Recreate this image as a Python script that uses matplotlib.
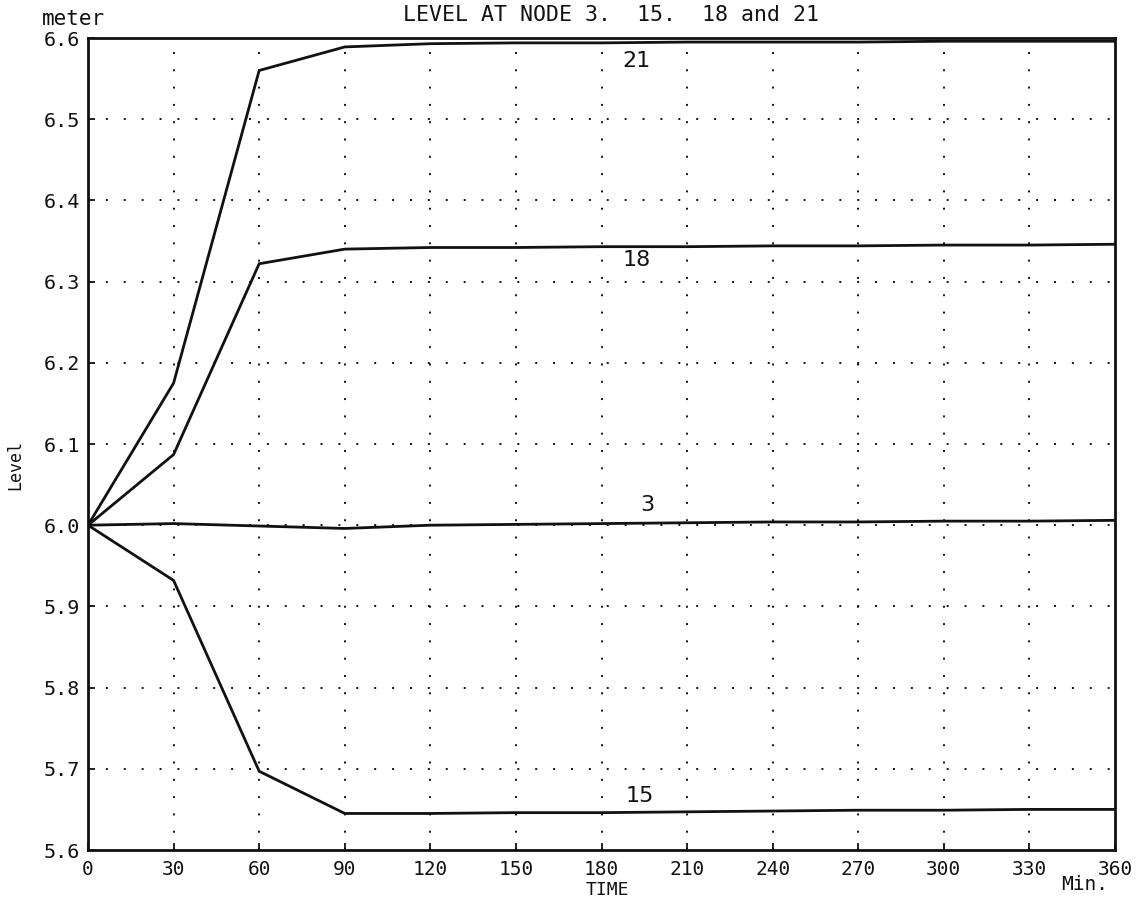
import matplotlib
matplotlib.use("Agg")
import matplotlib.pyplot as plt

# Data
time_min = [0, 30, 60, 90, 120, 150, 180, 210, 240, 270, 300, 330, 360]
node21 = [6.0, 6.175, 6.560, 6.589, 6.593, 6.594, 6.594, 6.595, 6.595, 6.595, 6.596, 6.596, 6.596]
node18 = [6.0, 6.087, 6.322, 6.340, 6.342, 6.342, 6.343, 6.343, 6.344, 6.344, 6.345, 6.345, 6.346]
node3 = [6.0, 6.002, 5.999, 5.996, 6.000, 6.001, 6.002, 6.003, 6.004, 6.004, 6.005, 6.005, 6.006]
node15 = [6.0, 5.932, 5.697, 5.645, 5.645, 5.646, 5.646, 5.647, 5.648, 5.649, 5.649, 5.650, 5.650]

series_names = ["21", "18", "3", "15"]
series_values = [node21, node18, node3, node15]
label_x = [192.1, 192.4, 195.9, 193.5]
label_y = [6.572, 6.326, 6.025, 5.667]

x_ticks = [0, 30, 60, 90, 120, 150, 180, 210, 240, 270, 300, 330, 360]
y_ticks = [5.6, 5.7, 5.8, 5.9, 6.0, 6.1, 6.2, 6.3, 6.4, 6.5, 6.6]

title = "LEVEL AT NODE 3.  15.  18 and 21"
ink = "#111111"
mono = "DejaVu Sans Mono"

fig = plt.figure(figsize=(11.42, 9.05), dpi=100)
ax = fig.add_axes([88 / 1142, 55 / 905, (1115 - 88) / 1142, (850 - 38) / 905])
ax.set_xlim(0, 360)
ax.set_ylim(5.6, 6.6)

# dotted grid
for xv in x_ticks[1:-1]:
    ax.axvline(xv, color=ink, lw=1.4, linestyle=(0, (1, 7.9)), zorder=1)
for yv in y_ticks[1:-1]:
    ax.axhline(yv, color=ink, lw=1.4, linestyle=(0, (1, 8.2)), zorder=1)

for name, vals, lx, ly in zip(series_names, series_values, label_x, label_y):
    ax.plot(time_min, vals, color=ink, lw=2.0, solid_joinstyle="miter", zorder=3)
    ax.text(lx, ly, name, fontsize=16, color=ink, ha="center", va="center",
            family="DejaVu Sans")

for s in ax.spines.values():
    s.set_linewidth(2.0)
    s.set_color(ink)

ax.set_xticks(x_ticks)
ax.set_yticks(y_ticks)
ax.set_xticklabels([str(v) for v in x_ticks], family=mono, fontsize=14)
ax.set_yticklabels([f"{v:.1f}" for v in y_ticks], family=mono, fontsize=14.5)
ax.tick_params(direction="in", length=5, width=1.3, colors=ink, pad=7)
ax.tick_params(axis="y", pad=6)

fig.text(611 / 1142, 1 - 15 / 905, title, family=mono, fontsize=15.5, ha="center", va="center", color=ink)
fig.text(73 / 1142, 1 - 19 / 905, "meter", family=mono, fontsize=15, ha="center", va="center", color=ink)
fig.text(15 / 1142, 1 - 465 / 905, "Level", family=mono, fontsize=12, ha="center", va="center",
         rotation=90, color=ink)
fig.text(607 / 1142, 1 - 890 / 905, "TIME", family=mono, fontsize=13, ha="center", va="center", color=ink)
fig.text(1085 / 1142, 1 - 884 / 905, "Min.", family=mono, fontsize=14, ha="center", va="center", color=ink)

fig.savefig("out.png", dpi=100, facecolor="white")
